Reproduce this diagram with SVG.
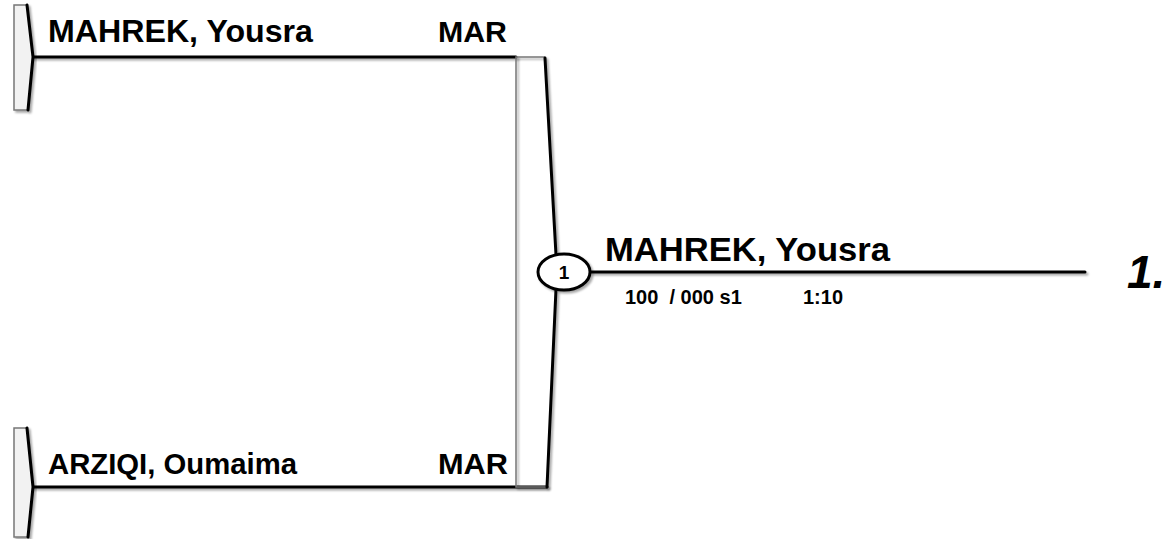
<svg xmlns="http://www.w3.org/2000/svg" width="1166" height="539" viewBox="0 0 1166 539">
<defs>
<style>
.t{font-family:"Liberation Sans",Arial,sans-serif;font-weight:bold;fill:#000}
.grey{stroke:#777;stroke-width:1.5;fill:none}
.dark{stroke:#000;stroke-width:3;fill:none;stroke-linejoin:round;stroke-linecap:round}
.brk{fill:#f2f2f2}
</style>
<filter id="sh" x="-20%" y="-20%" width="140%" height="140%">
<feGaussianBlur in="SourceAlpha" stdDeviation="1.2"/>
<feOffset dx="1.5" dy="1.5" result="b"/>
<feComponentTransfer><feFuncA type="linear" slope="0.35"/></feComponentTransfer>
<feMerge><feMergeNode/><feMergeNode in="SourceGraphic"/></feMerge>
</filter>
</defs>
<rect width="1166" height="539" fill="#fff"/>
<g id="connectors" filter="url(#sh)">
<line class="dark" x1="33" y1="57" x2="516" y2="57"/>
<line class="dark" x1="33" y1="487" x2="547" y2="487"/>
<line class="dark" x1="591" y1="272" x2="1085" y2="272"/>
</g>
<g id="entry1">
<g filter="url(#sh)">
<path class="brk" d="M14,5 L27,5 L33,57 L28,110 L14,110 Z"/>
<path class="grey" d="M27,5 L14,5 L14,110 L28,110"/>
<path class="dark" d="M27,5 L33,57 L28,110"/>
</g>
<text class="t" x="48" y="42" font-size="32" textLength="265" lengthAdjust="spacingAndGlyphs">MAHREK, Yousra</text>
<text class="t" x="438" y="42" font-size="30" textLength="69" lengthAdjust="spacingAndGlyphs">MAR</text>
</g>
<g id="entry2">
<g filter="url(#sh)">
<path class="brk" d="M14,428 L27,428 L33,487 L28,537 L14,537 Z"/>
<path class="grey" d="M27,428 L14,428 L14,537 L28,537"/>
<path class="dark" d="M27,428 L33,487 L28,537"/>
</g>
<text class="t" x="48" y="474" font-size="29" textLength="249" lengthAdjust="spacingAndGlyphs">ARZIQI, Oumaima</text>
<text class="t" x="438" y="474" font-size="30" textLength="70" lengthAdjust="spacingAndGlyphs">MAR</text>
</g>
<g id="match1">
<g filter="url(#sh)">
<path class="grey" d="M545,57 L516,57 L516,487 L547,487"/>
<path class="dark" d="M545,58 L556,255"/>
<path class="dark" d="M556,289 L547,487"/>
<ellipse cx="564" cy="272" rx="26" ry="18" fill="#fff" stroke="#000" stroke-width="3"/>
</g>
<text class="t" x="564" y="279" font-size="19" text-anchor="middle">1</text>
</g>
<g id="winner">
<text class="t" x="605" y="261" font-size="33" textLength="285" lengthAdjust="spacingAndGlyphs">MAHREK, Yousra</text>
<text class="t" x="625" y="304" font-size="20" xml:space="preserve" style="white-space:pre">100  / 000 s1</text>
<text class="t" x="803" y="304" font-size="20">1:10</text>
<text class="t" x="1127" y="288" font-size="46" font-style="italic">1.</text>
</g>
</svg>
